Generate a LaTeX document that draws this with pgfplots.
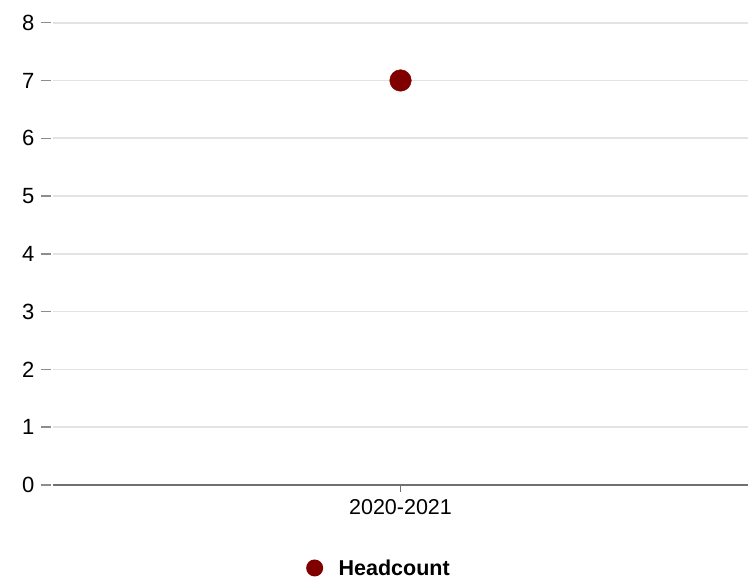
\documentclass[border=0pt]{standalone}
\usepackage{pgfplots}
\pgfplotsset{compat=1.18}
\usepackage{fontspec}
\setmainfont{Liberation Sans}
\definecolor{pt}{HTML}{800000}
\definecolor{grid}{HTML}{E3E3E3}
\definecolor{axl}{HTML}{707070}
\begin{document}
\begin{tikzpicture}
\begin{axis}[
  at={(0,0)}, anchor=south west,
  scale only axis, width=695pt, height=462.3pt,
  xmin=-0.5, xmax=0.5, ymin=0, ymax=8,
  xtick={0}, xticklabels={2020-2021},
  ytick={0,1,2,3,4,5,6,7,8},
  axis y line*=left, axis x line*=bottom,
  y axis line style={draw=none},
  x axis line style={draw=axl, line width=2pt},
  ymajorgrids, major grid style={draw=grid, line width=1.6pt},
  tick align=outside,
  major tick length=7pt,
  xtick style={draw=axl, line width=1pt},
  ytick style={draw=axl!80, line width=1.5pt, xshift=-2pt, /pgfplots/major tick length=10pt},
  yticklabel style={font=\fontsize{22}{26}\selectfont, xshift=-8pt},
  xticklabel style={font=\fontsize{21.5}{25}\selectfont, yshift=-4pt},
  /pgf/number format/assume math mode=true,
  clip=false,
  legend style={at={(0.469,-0.1795)}, anchor=center, draw=none, fill=none,
    font=\fontsize{21.5}{25}\selectfont\bfseries, legend columns=1},
  legend cell align=left,
  legend image code/.code={\fill[pt, draw=none] (0pt,0pt) circle (8.5pt); \path[draw=none, fill=none] (0pt,0pt) -- (22pt,0pt);},
]
\addplot[only marks, mark=*, mark size=10.8pt, color=pt] coordinates {(0,7)};
\addlegendentry{Headcount}
\end{axis}
\pgfresetboundingbox
\useasboundingbox (-53pt,-98pt) rectangle (703pt,485pt);
\end{tikzpicture}
\end{document}
